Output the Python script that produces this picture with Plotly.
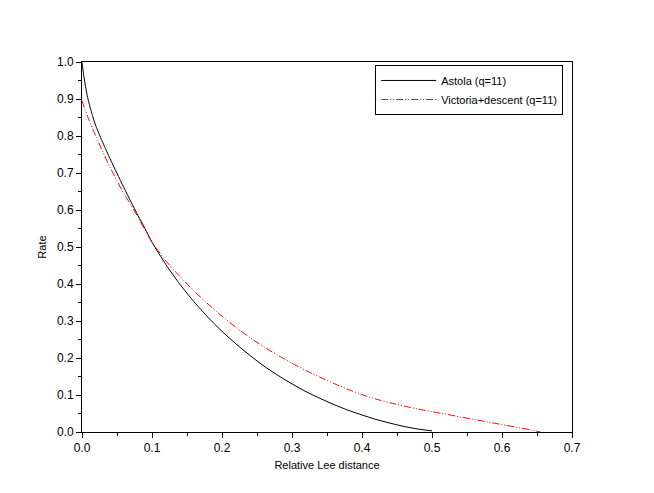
import plotly.graph_objects as go

# Astola bound (q=11)
astola_x = [0.0, 0.0025, 0.005, 0.0075, 0.01, 0.015, 0.02, 0.03, 0.04, 0.05, 0.06, 0.07,
            0.08, 0.09, 0.10, 0.12, 0.14, 0.16, 0.18, 0.20, 0.22, 0.24, 0.26, 0.28,
            0.30, 0.32, 0.34, 0.36, 0.38, 0.40, 0.42, 0.44, 0.46, 0.48, 0.50]
astola_y = [1.000, 0.963, 0.934, 0.909, 0.889, 0.855, 0.826, 0.781, 0.739, 0.699, 0.660, 0.622,
            0.585, 0.550, 0.513, 0.452, 0.399, 0.352, 0.310, 0.272, 0.238, 0.207, 0.178, 0.153,
            0.130, 0.109, 0.091, 0.074, 0.059, 0.046, 0.034, 0.024, 0.015, 0.008, 0.003]

# Victoria + descent (q=11)
victoria_x = [0.0, 0.005, 0.01, 0.02, 0.03, 0.04, 0.05, 0.06, 0.07, 0.08, 0.09, 0.10,
              0.12, 0.14, 0.16, 0.18, 0.20, 0.22, 0.24, 0.26, 0.28, 0.30, 0.32, 0.34,
              0.36, 0.38, 0.40, 0.42, 0.44, 0.46, 0.48, 0.50, 0.52, 0.54, 0.56, 0.58,
              0.60, 0.62, 0.64, 0.655]
victoria_y = [0.895, 0.868, 0.843, 0.798, 0.756, 0.716, 0.679, 0.643, 0.614, 0.580, 0.546, 0.513,
              0.462, 0.420, 0.381, 0.346, 0.313, 0.283, 0.255, 0.230, 0.207, 0.186, 0.166, 0.148,
              0.131, 0.115, 0.101, 0.089, 0.079, 0.070, 0.062, 0.055, 0.048, 0.041, 0.034, 0.027,
              0.020, 0.013, 0.006, 0.000]

fig = go.Figure()

fig.add_trace(go.Scatter(
    x=astola_x, y=astola_y, mode='lines', name='Astola (q=11)',
    line=dict(color='#000000', width=1, shape='spline', smoothing=0.6)
))
fig.add_trace(go.Scatter(
    x=victoria_x, y=victoria_y, mode='lines', name='Victoria+descent (q=11)',
    line=dict(color='#ff0000', width=1, dash='7px,2px,1px,2px,1px,2px',
              shape='spline', smoothing=0.6)
))

axis_common = dict(
    showgrid=False, zeroline=False,
    showline=True, linecolor='#000000', linewidth=1, mirror=True,
    ticks='outside', ticklen=5, tickcolor='#000000', tickwidth=1,
    tickformat='.1f', tickfont=dict(size=12, color='#000000'),
)

# page body has an 8px margin, so the figure is drawn slightly smaller
fig.update_layout(
    width=646, height=485,
    paper_bgcolor='white', plot_bgcolor='white',
    font=dict(family='Liberation Sans, Arial, sans-serif', color='#000000', size=11),
    margin=dict(l=74, r=82, t=54, b=61),
    xaxis=dict(
        range=[0, 0.7], dtick=0.1,
        minor=dict(dtick=0.05, ticks='outside', ticklen=3, tickcolor='#000000'),
        title=dict(text='Relative Lee distance', font=dict(size=11), standoff=6),
        **axis_common
    ),
    yaxis=dict(
        range=[0, 1.0], dtick=0.1,
        minor=dict(dtick=0.05, ticks='outside', ticklen=3, tickcolor='#000000'),
        title=dict(text='Rate', font=dict(size=11), standoff=8),
        **axis_common
    ),
    legend=dict(
        x=0.982, y=0.992, xanchor='right', yanchor='top',
        bgcolor='white', bordercolor='#000000', borderwidth=1,
        font=dict(size=11), tracegroupgap=0, itemwidth=55,
    ),
    showlegend=True,
)

fig.write_html("out.html")
